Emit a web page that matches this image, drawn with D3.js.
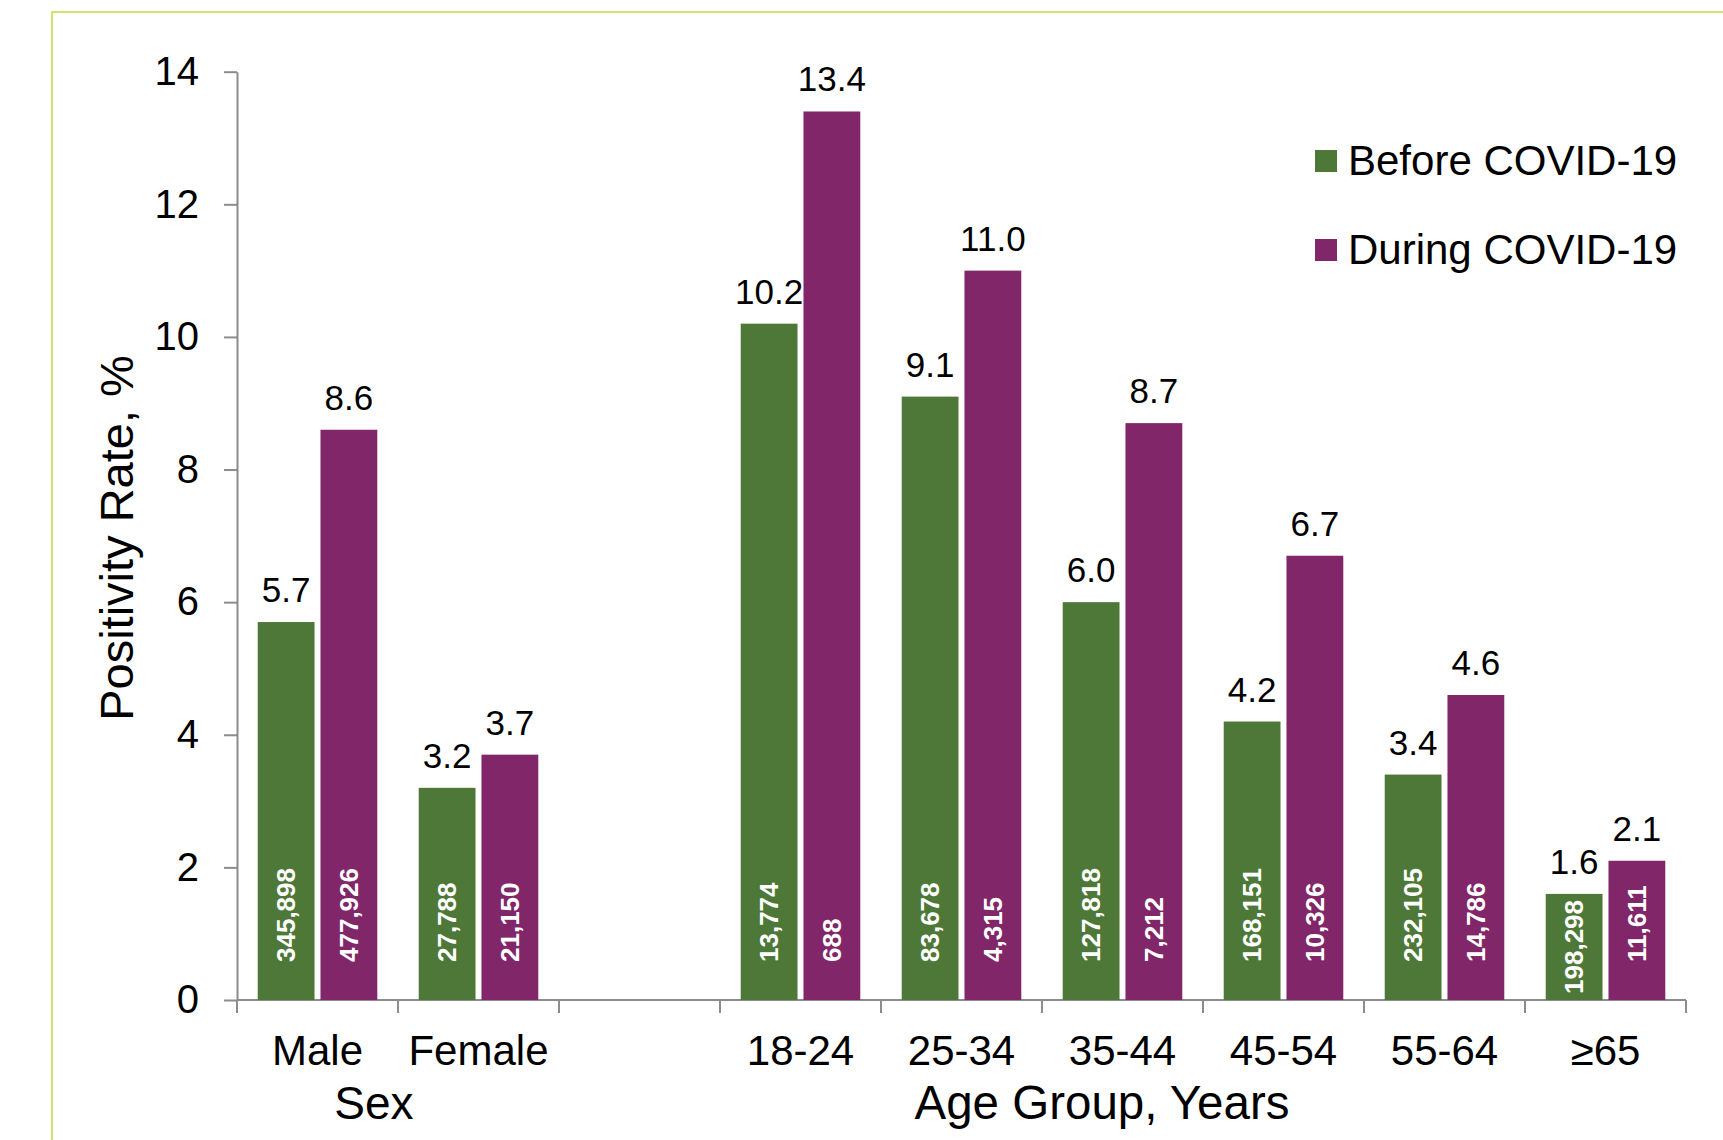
<!DOCTYPE html>
<html>
<head>
<meta charset="utf-8">
<script src="https://cdn.jsdelivr.net/npm/d3@7"></script>
<style>
  html, body { margin: 0; padding: 0; background: #fff; }
  svg { display: block; font-family: "Liberation Sans", Arial, sans-serif; }
</style>
</head>
<body>
<div id="chart"></div>
<script>
// === Data ===
const categories = ["Male", "Female", "", "18-24", "25-34", "35-44", "45-54", "55-64", "≥65"];
const seriesNames = ["Before COVID-19", "During COVID-19"];
const beforeRate = [5.7, 3.2, null, 10.2, 9.1, 6.0, 4.2, 3.4, 1.6];
const duringRate = [8.6, 3.7, null, 13.4, 11.0, 8.7, 6.7, 4.6, 2.1];
const beforeN = ["345,898", "27,788", null, "13,774", "83,678", "127,818", "168,151", "232,105", "198,298"];
const duringN = ["477,926", "21,150", null, "688", "4,315", "7,212", "10,326", "14,786", "11,611"];
const yTicks = [0, 2, 4, 6, 8, 10, 12, 14];
const groupTitles = [
  { text: "Sex", x: 374 },
  { text: "Age Group, Years", x: 1102 }
];

const colors = { "Before COVID-19": "#4e7838", "During COVID-19": "#802669" };

const width = 1723, height = 1140;
const svg = d3.select("#chart").append("svg")
  .attr("width", width)
  .attr("height", height);

// frame lines (top + left)
svg.append("path")
  .attr("d", `M52,${height} V12 H${width}`)
  .attr("fill", "none")
  .attr("stroke", "#d6e06c")
  .attr("stroke-width", 2);

const x0 = d3.scaleBand().domain(categories).range([237, 1686]).padding(0);
const x1 = d3.scaleBand().domain(seriesNames).range([0, x0.bandwidth()])
  .paddingInner(0.095).paddingOuter(0.33);
const y = d3.scaleLinear().domain([0, 14]).range([1000, 71.7]);

const axisColor = "#8c8c8c";

// y axis
const yAxis = svg.append("g")
  .attr("transform", `translate(${x0.range()[0]},0)`)
  .call(d3.axisLeft(y).tickValues(yTicks).tickSize(13).tickPadding(25).tickSizeOuter(0));
yAxis.select(".domain").attr("stroke", axisColor).attr("stroke-width", 2);
yAxis.selectAll(".tick line").attr("stroke", axisColor).attr("stroke-width", 2);
yAxis.selectAll(".tick text")
  .attr("font-family", "Liberation Sans, Arial, sans-serif")
  .attr("font-size", 40)
  .attr("fill", "#000");

// x axis (ticks on category boundaries)
const bounds = categories.map(c => x0(c)).concat([x0.range()[1]]);
svg.append("line")
  .attr("x1", x0.range()[0]).attr("x2", x0.range()[1])
  .attr("y1", y(0)).attr("y2", y(0))
  .attr("stroke", axisColor).attr("stroke-width", 2);
svg.selectAll(".xtick")
  .data(bounds)
  .join("line")
  .attr("class", "xtick")
  .attr("x1", d => d).attr("x2", d => d)
  .attr("y1", y(0)).attr("y2", y(0) + 13)
  .attr("stroke", axisColor).attr("stroke-width", 2);

svg.selectAll(".xlbl")
  .data(categories)
  .join("text")
  .attr("class", "xlbl")
  .attr("x", d => x0(d) + x0.bandwidth() / 2)
  .attr("y", 1065)
  .attr("text-anchor", "middle")
  .attr("font-size", 42)
  .text(d => d);

svg.selectAll(".gtitle")
  .data(groupTitles)
  .join("text")
  .attr("class", "gtitle")
  .attr("x", d => d.x)
  .attr("y", 1119)
  .attr("text-anchor", "middle")
  .attr("font-size", d => d.text === "Sex" ? 46 : 47.5)
  .text(d => d.text);

// y title
svg.append("text")
  .attr("transform", "translate(133,538) rotate(-90)")
  .attr("text-anchor", "middle")
  .attr("font-size", 47)
  .text("Positivity Rate, %");

// === Bars ===
const rows = categories.map((c, i) => ({
  cat: c,
  vals: [
    { key: seriesNames[0], v: beforeRate[i], n: beforeN[i] },
    { key: seriesNames[1], v: duringRate[i], n: duringN[i] }
  ]
})).filter(r => r.vals[0].v != null);

const groups = svg.selectAll(".grp")
  .data(rows)
  .join("g")
  .attr("class", "grp")
  .attr("transform", d => `translate(${x0(d.cat)},0)`);

const cells = groups.selectAll(".cell")
  .data(d => d.vals)
  .join("g")
  .attr("class", "cell");

cells.append("rect")
  .attr("x", d => x1(d.key))
  .attr("y", d => y(d.v))
  .attr("width", x1.bandwidth())
  .attr("height", d => y(0) - y(d.v))
  .attr("fill", d => colors[d.key]);

// value above bar
cells.append("text")
  .attr("x", d => x1(d.key) + x1.bandwidth() / 2)
  .attr("y", d => y(d.v) - 20)
  .attr("text-anchor", "middle")
  .attr("font-size", 35)
  .text(d => d3.format(".1f")(d.v));

// sample size inside bar, rotated; sits near the base, centred if it won't fit
cells.append("text")
  .attr("font-size", 26)
  .attr("font-weight", "bold")
  .attr("fill", "#fff")
  .attr("dy", "0.35em")
  .text(d => d.n)
  .each(function(d) {
    const len = this.getComputedTextLength();
    const cx = x1(d.key) + x1.bandwidth() / 2;
    const top = y(d.v);
    let bottom = y(0) - 38;
    if (bottom - len < top + 8) bottom = (top + y(0)) / 2 + len / 2;
    d3.select(this).attr("transform", `translate(${cx},${bottom}) rotate(-90)`);
  });

// === Legend ===
const legend = svg.selectAll(".leg")
  .data(seriesNames)
  .join("g")
  .attr("class", "leg")
  .attr("transform", (d, i) => `translate(1315,${150 + i * 89})`);
legend.append("rect")
  .attr("width", 22).attr("height", 22)
  .attr("fill", d => colors[d]);
legend.append("text")
  .attr("x", 33)
  .attr("y", 25)
  .attr("font-size", 42)
  .text(d => d);
</script>
</body>
</html>
